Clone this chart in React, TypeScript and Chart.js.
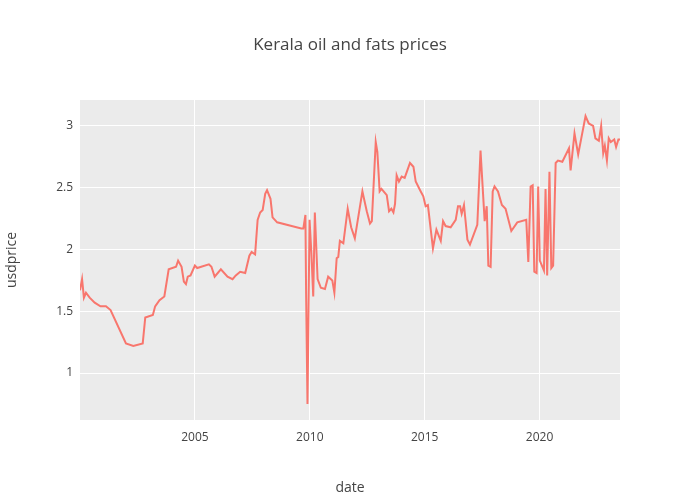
import { useEffect, useRef } from "react"
import { Chart, registerables } from "chart.js"

Chart.register(...registerables)

// decimal years and USD prices
const years = [
  2000.0, 2000.09, 2000.17, 2000.26, 2000.42, 2000.64, 2000.89, 2001.13, 2001.33, 2002.0,
  2002.32, 2002.73, 2002.84, 2003.17, 2003.27, 2003.46, 2003.67, 2003.86, 2004.18, 2004.27,
  2004.42, 2004.52, 2004.61, 2004.69, 2004.81, 2005.0, 2005.1, 2005.61, 2005.72, 2005.86,
  2006.13, 2006.42, 2006.64, 2006.78, 2006.97, 2007.19, 2007.37, 2007.47, 2007.62, 2007.73,
  2007.84, 2007.95, 2008.06, 2008.14, 2008.29, 2008.38, 2008.58, 2009.63, 2009.72, 2009.81,
  2009.84, 2009.9, 2009.99, 2010.07, 2010.15, 2010.22, 2010.34, 2010.48, 2010.66, 2010.8,
  2010.98, 2011.07, 2011.17, 2011.24, 2011.31, 2011.46, 2011.65, 2011.8, 2011.96, 2012.29,
  2012.48, 2012.62, 2012.7, 2012.87, 2012.94, 2013.04, 2013.12, 2013.35, 2013.45, 2013.55,
  2013.64, 2013.71, 2013.78, 2013.88, 2014.0, 2014.13, 2014.36, 2014.51, 2014.61, 2014.8,
  2014.94, 2015.04, 2015.14, 2015.36, 2015.51, 2015.7, 2015.8, 2015.91, 2016.13, 2016.35,
  2016.45, 2016.54, 2016.61, 2016.71, 2016.86, 2016.97, 2017.29, 2017.43, 2017.61, 2017.7,
  2017.77, 2017.87, 2017.96, 2018.04, 2018.19, 2018.36, 2018.52, 2018.77, 2019.03, 2019.42,
  2019.51, 2019.61, 2019.7, 2019.77, 2019.87, 2019.94, 2020.01, 2020.19, 2020.26, 2020.33,
  2020.43, 2020.51, 2020.59, 2020.7, 2020.8, 2020.99, 2021.28, 2021.35, 2021.52, 2021.68,
  2022.0, 2022.14, 2022.33, 2022.43, 2022.58, 2022.68, 2022.77, 2022.84, 2022.93, 2023.01,
  2023.1, 2023.25, 2023.33, 2023.43, 2023.5,
]
const usdprice = [
  1.67, 1.76, 1.61, 1.65, 1.61, 1.57, 1.54, 1.54, 1.51, 1.24,
  1.22, 1.24, 1.45, 1.47, 1.54, 1.59, 1.62, 1.84, 1.86, 1.91,
  1.86, 1.74, 1.72, 1.78, 1.79, 1.87, 1.85, 1.88, 1.86, 1.78,
  1.84, 1.78, 1.76, 1.79, 1.82, 1.81, 1.95, 1.98, 1.96, 2.24,
  2.3, 2.32, 2.45, 2.48, 2.41, 2.26, 2.22, 2.17, 2.17, 2.28,
  1.64, 0.75, 2.24, 1.97, 1.62, 2.3, 1.76, 1.69, 1.68, 1.78,
  1.75, 1.65, 1.93, 1.94, 2.07, 2.05, 2.33, 2.18, 2.09, 2.47,
  2.31, 2.21, 2.23, 2.87, 2.79, 2.47, 2.49, 2.44, 2.31, 2.33,
  2.3, 2.37, 2.6, 2.55, 2.59, 2.58, 2.7, 2.67, 2.55, 2.48,
  2.43, 2.35, 2.36, 2.01, 2.16, 2.07, 2.23, 2.19, 2.18, 2.24,
  2.35, 2.35, 2.29, 2.36, 2.08, 2.04, 2.2, 2.8, 2.23, 2.35,
  1.87, 1.86, 2.47, 2.51, 2.47, 2.36, 2.33, 2.15, 2.22, 2.24,
  1.9, 2.51, 2.52, 1.82, 1.81, 2.51, 1.91, 1.83, 2.49, 1.79,
  2.63, 1.85, 1.87, 2.7, 2.72, 2.71, 2.82, 2.64, 2.94, 2.77,
  3.08, 3.02, 3.0, 2.9, 2.88, 3.0, 2.78, 2.84, 2.72, 2.9,
  2.87, 2.89, 2.83, 2.89, 2.89,
]
const xTicks = [2005, 2010, 2015, 2020]
const yTicks = [1, 1.5, 2, 2.5, 3]

const plotBg = {
  id: "plotBg",
  beforeDraw(chart: Chart) {
    const { ctx, chartArea: a } = chart
    ctx.save()
    ctx.fillStyle = "#ebebeb"
    ctx.fillRect(a.left, a.top, a.right - a.left, a.bottom - a.top)
    ctx.restore()
  },
  afterDraw(chart: Chart) {
    const { ctx } = chart
    ctx.save()
    ctx.fillStyle = "#444"
    ctx.font = '17px "Open Sans", sans-serif'
    ctx.textAlign = "center"
    ctx.textBaseline = "middle"
    ctx.fillText("Kerala oil and fats prices", 350, 45)
    ctx.restore()
  },
}

export default function App() {
  const canvasRef = useRef<HTMLCanvasElement>(null)

  useEffect(() => {
    document.body.style.margin = "0"
    if (!canvasRef.current) return
    const font = { family: '"Open Sans", sans-serif', size: 12 }
    const chart = new Chart(canvasRef.current, {
      type: "line",
      data: {
        datasets: [
          {
            data: years.map((x, i) => ({ x, y: usdprice[i] })),
            borderColor: "#F8766D",
            borderWidth: 2,
            pointRadius: 0,
            tension: 0,
          },
        ],
      },
      options: {
        responsive: false,
        animation: false,
        layout: { padding: { top: 100, right: 80, left: 0, bottom: 0 } },
        plugins: { legend: { display: false }, tooltip: { enabled: false } },
        scales: {
          x: {
            type: "linear",
            min: 2000.0,
            max: 2023.5,
            afterBuildTicks: (s: any) => { s.ticks = xTicks.map((value) => ({ value })) },
            afterFit: (s: any) => { s.height = 80 },
            grid: { color: "#ffffff", lineWidth: 1, drawTicks: false },
            border: { display: false },
            ticks: { color: "#444", font, padding: 10, callback: (v: any) => String(v) },
            title: { display: true, text: "date", color: "#444", font: { ...font, size: 14 }, padding: { top: 14 } },
          },
          y: {
            min: 0.62,
            max: 3.21,
            afterBuildTicks: (s: any) => { s.ticks = yTicks.map((value) => ({ value })) },
            afterFit: (s: any) => { s.width = 80 },
            grid: { color: "#ffffff", lineWidth: 1, drawTicks: false },
            border: { display: false },
            ticks: { color: "#444", font, padding: 7, callback: (v: any) => String(v) },
            title: { display: true, text: "usdprice", color: "#444", font: { ...font, size: 14 }, padding: { bottom: 14 } },
          },
        },
      },
      plugins: [plotBg],
    })
    return () => chart.destroy()
  }, [])

  return <canvas ref={canvasRef} width={700} height={500} />
}
